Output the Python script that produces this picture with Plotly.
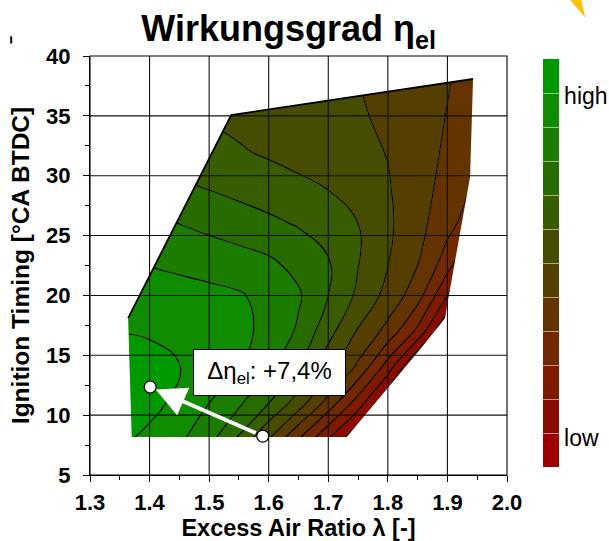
import plotly.graph_objects as go

# ---------------- data ----------------
LAMBDA = [1.35, 1.40, 1.45, 1.50, 1.55, 1.60, 1.65, 1.70, 1.75, 1.80, 1.85, 1.90, 1.95]
TIMING = [8, 11, 14, 17, 20, 23, 26, 29, 32, 35, 39]
# efficiency level (band index, 0 = low ... 12 = high), one row per timing
EFF = [
    [11.23, 10.71, 10.18, 9.31, 7.80, 6.00, 4.00, 2.00, 0.00, -2.00, -4.00, -6.00, -8.00],
    [11.60, 11.35, 10.71, 10.00, 9.17, 8.00, 6.50, 4.60, 2.50, 0.00, -2.50, -5.00, -7.50],
    [11.70, 11.50, 11.05, 10.53, 10.00, 9.17, 8.00, 6.33, 4.80, 2.50, -0.50, -3.50, -6.50],
    [10.95, 10.85, 10.70, 10.45, 10.20, 9.79, 8.85, 7.35, 5.90, 4.67, 2.75, -0.30, -3.00],
    [10.70, 10.55, 10.40, 10.25, 10.10, 9.67, 9.13, 8.00, 6.81, 5.67, 4.43, 2.00, -1.30],
    [10.10, 9.87, 9.70, 9.55, 9.35, 9.10, 8.64, 8.04, 7.06, 6.06, 5.10, 3.60, 1.60],
    [9.60, 9.30, 8.99, 8.73, 8.47, 8.21, 7.91, 7.45, 7.00, 6.17, 5.33, 4.33, 3.30],
    [8.60, 8.40, 8.17, 7.95, 7.71, 7.47, 7.22, 6.97, 6.50, 6.07, 5.43, 4.64, 3.80],
    [8.00, 7.80, 7.60, 7.30, 7.09, 6.87, 6.65, 6.43, 6.20, 5.97, 5.42, 4.85, 4.30],
    [7.50, 7.30, 7.10, 6.92, 6.75, 6.60, 6.45, 6.30, 6.12, 5.80, 5.39, 4.97, 4.50],
    [7.10, 6.95, 6.80, 6.65, 6.50, 6.38, 6.26, 6.13, 5.95, 5.70, 5.45, 5.08, 4.70],
]
# measured operating region (boundary of the map)
BOUND_LAMBDA = [1.364, 1.537, 1.943, 1.938, 1.901, 1.896, 1.849, 1.731, 1.370]
BOUND_TIMING = [18.1, 35.07, 38.08, 29.9, 19.6, 18.1, 15.2, 8.17, 8.17]
OUTLINE_N = 3  # first vertices drawn with a black edge

# band colours, low -> high
BAND_COLORS = ["#9c0000", "#8a0c00", "#7e1a00", "#722800", "#643400", "#553f00",
               "#474d00", "#385c00", "#286c00", "#1a7d00", "#0f8c00", "#009a00"]
CB_TICKVALS = [10.9, 0.85]
CB_TICKTEXT = ["high", "low"]

X_TICKS = [1.3, 1.4, 1.5, 1.6, 1.7, 1.8, 1.9, 2.0]
Y_TICKS = [5, 10, 15, 20, 25, 30, 35, 40]

# annotation: points compared
P_BASE = (1.590, 8.25)
P_OPT = (1.401, 12.35)
LABEL_POS = (1.6005, 13.6)
LABEL_TEXT = "Δη<sub>el</sub>: +7,4%"

FONT = "Liberation Sans, Arial, sans-serif"
X_RANGE = [X_TICKS[0], X_TICKS[-1]]
Y_RANGE = [Y_TICKS[0], Y_TICKS[-1]]

n = len(BAND_COLORS)
cscale = []
for i, c in enumerate(BAND_COLORS):
    cscale.append([i / n, c])
    cscale.append([(i + 1) / n, c])

fig = go.Figure()

# filled bands (with colorbar)
fig.add_trace(go.Contour(
    x=LAMBDA, y=TIMING, z=EFF,
    zmin=0, zmax=n, zauto=False,
    autocontour=False,
    contours=dict(start=1, end=n - 1, size=1, coloring="fill", showlines=True),
    line=dict(color="rgba(255,255,255,0.55)", width=1, smoothing=1.3),
    colorscale=cscale,
    showscale=True,
    colorbar=dict(
        thickness=16, len=408, lenmode="pixels", y=0.506, yanchor="middle",
        x=1.0863, xanchor="left", outlinewidth=0, xpad=0, ypad=0,
        tickmode="array", tickvals=CB_TICKVALS, ticktext=CB_TICKTEXT,
        ticks="", ticklabelposition="outside",
        tickfont=dict(family=FONT, size=23, color="black"),
    ),
    hoverinfo="skip",
))
# black isolines
fig.add_trace(go.Contour(
    x=LAMBDA, y=TIMING, z=EFF,
    autocontour=False,
    contours=dict(start=1, end=n - 1, size=1, coloring="none", showlines=True),
    line=dict(color="black", width=1.2, smoothing=1.3),
    showscale=False, hoverinfo="skip",
))

shapes = []
# white mask outside the measured region
rect = (f"M{X_RANGE[0]-0.05},{Y_RANGE[0]-2} L{X_RANGE[1]+0.05},{Y_RANGE[0]-2} "
        f"L{X_RANGE[1]+0.05},{Y_RANGE[1]+2} L{X_RANGE[0]-0.05},{Y_RANGE[1]+2} Z")
poly = "M" + " L".join(f"{a},{b}" for a, b in zip(BOUND_LAMBDA, BOUND_TIMING)) + " Z"
shapes.append(dict(type="path", xref="x", yref="y", path=rect + " " + poly,
                   fillcolor="white", fillrule="evenodd", line=dict(width=0), layer="above"))
# outline of the upper-left edge
edge = "M" + " L".join(f"{a},{b}" for a, b in zip(BOUND_LAMBDA[:OUTLINE_N], BOUND_TIMING[:OUTLINE_N]))
shapes.append(dict(type="path", xref="x", yref="y", path=edge,
                   line=dict(color="black", width=1.8), layer="above"))
# grid lines above the map
for xv in X_TICKS[1:-1]:
    shapes.append(dict(type="line", xref="x", yref="paper", x0=xv, x1=xv, y0=0, y1=1,
                       line=dict(color="#111111", width=1.1), layer="above"))
for yv in Y_TICKS[1:-1]:
    shapes.append(dict(type="line", xref="paper", yref="y", x0=0, x1=1, y0=yv, y1=yv,
                       line=dict(color="#111111", width=1.1), layer="above"))
# frame
shapes.append(dict(type="rect", xref="paper", yref="paper", x0=0, x1=1, y0=0, y1=1,
                   line=dict(color="black", width=1.1), layer="above"))
# point markers
for (px, py) in (P_OPT, P_BASE):
    shapes.append(dict(type="circle", xref="x", yref="y", xsizemode="pixel", ysizemode="pixel",
                       xanchor=px, yanchor=py, x0=-6, x1=6, y0=-6, y1=6,
                       fillcolor="white", line=dict(color="black", width=1.2), layer="above"))
# decorative corner sliver and stray mark from the slide
shapes.append(dict(type="path", xref="paper", yref="paper",
                   path="M1.146,1.14 L1.176,1.14 L1.188,1.091 Z",
                   fillcolor="#ffc000", line=dict(width=0)))
shapes.append(dict(type="line", xref="paper", yref="paper",
                   x0=-0.189, x1=-0.189, y0=1.030, y1=1.047,
                   line=dict(color="black", width=2)))

annotations = [
    dict(x=P_OPT[0], y=P_OPT[1], ax=P_BASE[0], ay=P_BASE[1], xref="x", yref="y",
         axref="x", ayref="y", text="", showarrow=True, arrowcolor="white",
         arrowwidth=4, arrowhead=2, arrowsize=1.5, standoff=6, startstandoff=6),
    dict(x=LABEL_POS[0], y=LABEL_POS[1], xref="x", yref="y", text=LABEL_TEXT,
         showarrow=False, font=dict(family=FONT, size=24, color="black"),
         bgcolor="white", bordercolor="black", borderwidth=1, borderpad=4,
         width=143, height=37, align="center", valign="middle"),
]

axis_common = dict(
    showgrid=False, zeroline=False, showline=True, linecolor="black", linewidth=1,
    ticks="outside", ticklen=6, tickcolor="black", tickwidth=1,
    tickfont=dict(family=FONT, size=22, color="black", weight="bold"),
    tickmode="array",
)

fig.update_layout(
    width=609, height=541,
    margin=dict(l=90, r=102, t=56, b=66, autoexpand=False),
    paper_bgcolor="white", plot_bgcolor="white",
    font=dict(family=FONT, color="black"),
    title=dict(text="<b>Wirkungsgrad η<sub>el</sub></b>",
               x=0.474, xanchor="center",
               y=0.947, yanchor="middle", yref="container",
               font=dict(family=FONT, size=36, color="black")),
    xaxis=dict(axis_common, range=X_RANGE, tickvals=X_TICKS,
               ticktext=[f"{v:.1f}" for v in X_TICKS],
               ticklabelstandoff=2,
               minor=dict(dtick=0.05, ticks="outside", ticklen=4, tickcolor="black"),
               title=dict(text="Excess Air Ratio λ [-]", standoff=5,
                          font=dict(family=FONT, size=23.5, color="black", weight="bold"))),
    yaxis=dict(axis_common, range=Y_RANGE, tickvals=Y_TICKS,
               ticktext=[str(v) for v in Y_TICKS],
               ticklabelstandoff=8,
               minor=dict(dtick=2.5, ticks="outside", ticklen=4, tickcolor="black"),
               title=dict(text="Ignition Timing [°CA BTDC]", standoff=9,
                          font=dict(family=FONT, size=24.5, color="black", weight="bold"))),
    shapes=shapes,
    annotations=annotations,
    showlegend=False,
)

fig.write_html("out.html")
